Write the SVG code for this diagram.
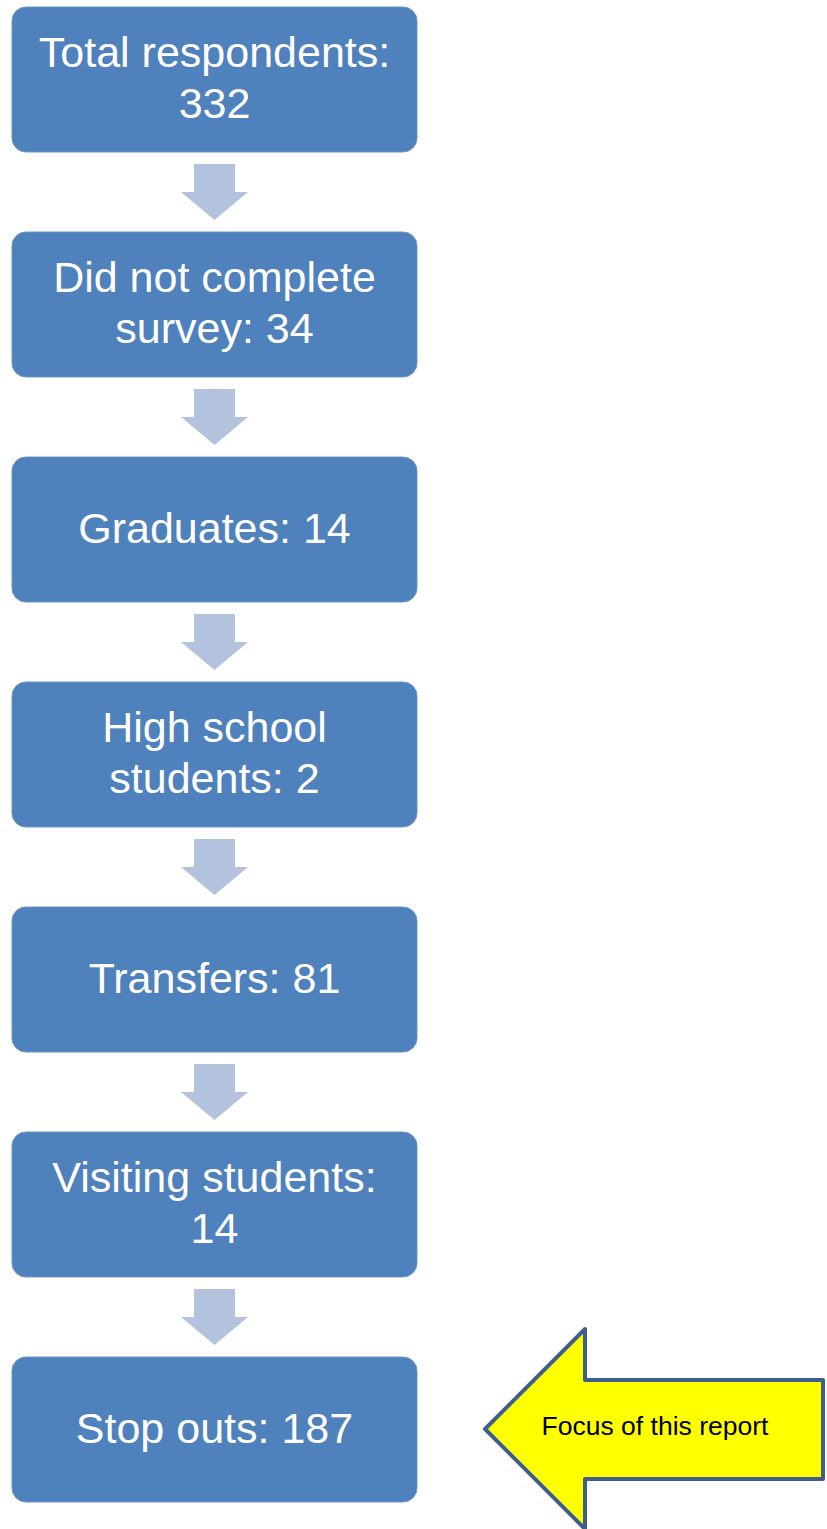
<svg xmlns="http://www.w3.org/2000/svg" width="827" height="1529" viewBox="0 0 827 1529">
<style>
.box{fill:#4F81BD;stroke:#6A94C8;stroke-width:1}
.lbl{font-family:"Liberation Sans",Arial,sans-serif;font-size:43px;fill:#FFFFFF;text-anchor:middle}
.dn{fill:#B3C2DD}
.focus{fill:#FFFF00;stroke:#3E5F8E;stroke-width:4;stroke-linejoin:round}
.ftxt{font-family:"Liberation Sans",Arial,sans-serif;font-size:26.5px;fill:#000000;text-anchor:middle}
</style>
<rect width="827" height="1529" fill="#FFFFFF"/>
<g id="connectors">
<polygon class="dn" points="194,164 235,164 235,192 248,192 214.5,220 181,192 194,192"/>
<polygon class="dn" points="194,389 235,389 235,417 248,417 214.5,445 181,417 194,417"/>
<polygon class="dn" points="194,614 235,614 235,642 248,642 214.5,670 181,642 194,642"/>
<polygon class="dn" points="194,839 235,839 235,867 248,867 214.5,895 181,867 194,867"/>
<polygon class="dn" points="194,1064 235,1064 235,1092 248,1092 214.5,1120 181,1092 194,1092"/>
<polygon class="dn" points="194,1289 235,1289 235,1317 248,1317 214.5,1345 181,1317 194,1317"/>
</g>
<g id="node1">
<rect class="box" x="12" y="7" width="405" height="145" rx="14"/>
<text class="lbl" x="214.5" y="67">Total respondents:</text>
<text class="lbl" x="214.5" y="118">332</text>
</g>
<g id="node2">
<rect class="box" x="12" y="232" width="405" height="145" rx="14"/>
<text class="lbl" x="214.5" y="292">Did not complete</text>
<text class="lbl" x="214.5" y="343">survey: 34</text>
</g>
<g id="node3">
<rect class="box" x="12" y="457" width="405" height="145" rx="14"/>
<text class="lbl" x="214.5" y="543">Graduates: 14</text>
</g>
<g id="node4">
<rect class="box" x="12" y="682" width="405" height="145" rx="14"/>
<text class="lbl" x="214.5" y="742">High school</text>
<text class="lbl" x="214.5" y="793">students: 2</text>
</g>
<g id="node5">
<rect class="box" x="12" y="907" width="405" height="145" rx="14"/>
<text class="lbl" x="214.5" y="993">Transfers: 81</text>
</g>
<g id="node6">
<rect class="box" x="12" y="1132" width="405" height="145" rx="14"/>
<text class="lbl" x="214.5" y="1192">Visiting students:</text>
<text class="lbl" x="214.5" y="1243">14</text>
</g>
<g id="node7">
<rect class="box" x="12" y="1357" width="405" height="145" rx="14"/>
<text class="lbl" x="214.5" y="1443">Stop outs: 187</text>
</g>
<g id="focus">
<polygon class="focus" points="485,1429 585,1329 585,1380 823,1380 823,1479 585,1479 585,1529"/>
<text class="ftxt" x="655" y="1435">Focus of this report</text>
</g>
</svg>
